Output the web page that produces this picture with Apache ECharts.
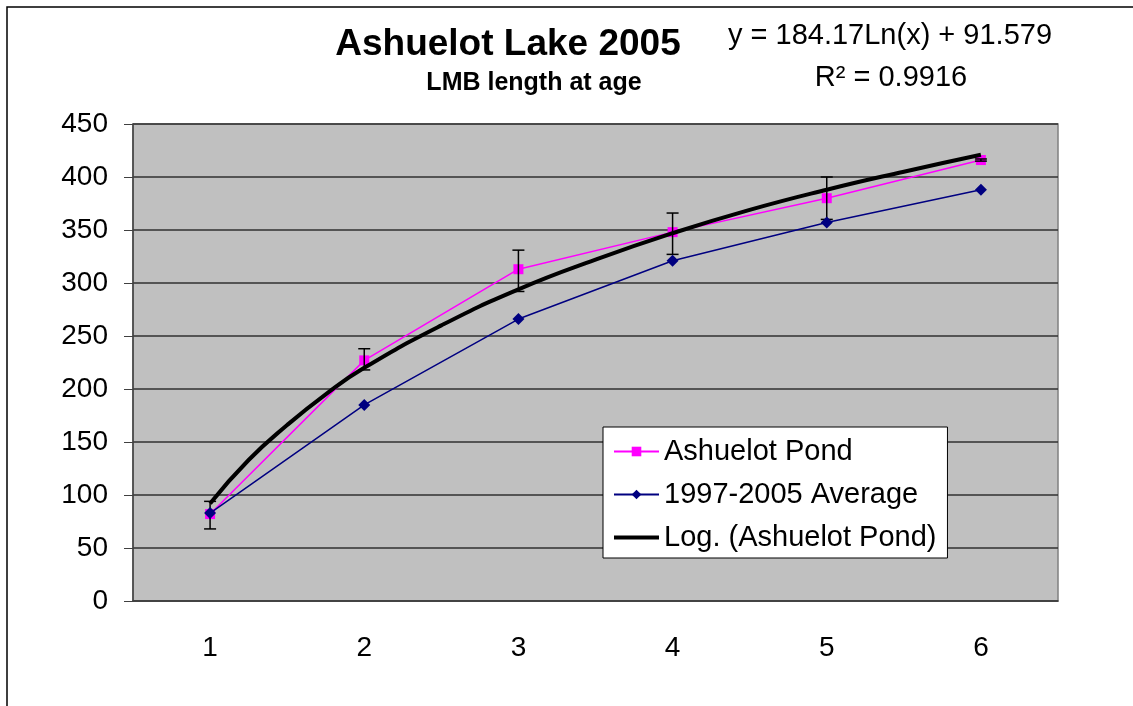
<!DOCTYPE html>
<html>
<head>
<meta charset="utf-8">
<title>Ashuelot Lake 2005</title>
<script src="https://cdn.jsdelivr.net/npm/echarts@6/dist/echarts.min.js"></script>
<style>
  html, body { margin: 0; padding: 0; background: #fff; }
  #chart { width: 1133px; height: 706px; }
</style>
</head>
<body>
<div id="chart"></div>
<script>
// age classes on the category axis
const ages = ["1", "2", "3", "4", "5", "6"]
// Ashuelot Pond mean length at age (mm) with error bar ends
const pondLength = [82, 227, 313, 348, 380, 416]
const pondErrLow = [68, 218, 292, 327, 360, 415]
const pondErrHigh = [94, 238, 331, 366, 400, 417]
// 1997-2005 average length at age
const averageLength = [83, 185, 266, 321, 357, 388]
// log trendline
const trendAge = [1, 1.25, 1.5, 1.75, 2, 2.5, 3, 3.5, 4, 4.5, 5, 5.5, 6]
const trendLength = [92, 133, 166, 195, 220, 260, 294, 322, 347, 369, 388, 405, 421]
// y axis ticks
const yMin = 0
const yMax = 450
const yStep = 50

const FONT = "'Liberation Sans', Arial, sans-serif"

const chart = echarts.init(document.getElementById("chart"))

const pondPoints = ages.map((a, i) => [Number(a), pondLength[i]])
const averagePoints = ages.map((a, i) => [Number(a), averageLength[i]])
const errorPoints = ages.map((a, i) => [Number(a), pondErrLow[i], pondErrHigh[i]])
const trendPoints = trendAge.map((a, i) => [a, trendLength[i]])

// thick bar in the middle of a 45x12 box, used as the trendline's legend icon
const thickLineIcon = "path://M0,0 M0,12 M0,4 L45,4 L45,8 L0,8 Z"

function renderErrorBar(params, api) {
    const x = api.value(0)
    const low = api.coord([x, api.value(1)])
    const high = api.coord([x, api.value(2)])
    const cap = 6
    const style = { stroke: "#000", lineWidth: 1.5 }
    return {
        type: "group",
        children: [
            { type: "line", shape: { x1: low[0], y1: low[1], x2: high[0], y2: high[1] }, style },
            { type: "line", shape: { x1: high[0] - cap, y1: high[1], x2: high[0] + cap, y2: high[1] }, style },
            { type: "line", shape: { x1: low[0] - cap, y1: low[1], x2: low[0] + cap, y2: low[1] }, style },
        ],
    }
}

chart.setOption({
    animation: false,
    textStyle: { fontFamily: FONT },
    graphic: [
        {
            type: "rect",
            shape: { x: 7, y: 7, width: 1150, height: 720 },
            style: { fill: "none", stroke: "#000", lineWidth: 1.5 },
            silent: true,
        },
        {
            type: "text",
            style: { text: "Ashuelot Lake 2005", x: 508, y: 45, textAlign: "center", textVerticalAlign: "middle", font: "bold 37px " + FONT, fill: "#000" },
        },
        {
            type: "text",
            style: { text: "LMB length at age", x: 534, y: 83, textAlign: "center", textVerticalAlign: "middle", font: "bold 25px " + FONT, fill: "#000" },
        },
        {
            type: "text",
            style: { text: "y = 184.17Ln(x) + 91.579", x: 890, y: 36, textAlign: "center", textVerticalAlign: "middle", font: "29px " + FONT, fill: "#000" },
        },
        {
            type: "text",
            style: { text: "R² = 0.9916", x: 891, y: 78, textAlign: "center", textVerticalAlign: "middle", font: "29px " + FONT, fill: "#000" },
        },
    ],
    grid: {
        left: 133,
        right: 75,
        top: 124,
        bottom: 105,
        show: true,
        backgroundColor: "#C0C0C0",
        borderColor: "#808080",
        borderWidth: 1.5,
    },
    legend: {
        orient: "vertical",
        left: 603,
        top: 427,
        padding: [10, 11, 6, 10],
        itemWidth: 45,
        itemHeight: 12,
        itemGap: 14,
        backgroundColor: "#fff",
        borderColor: "#000",
        borderWidth: 1,
        textStyle: { fontSize: 29, color: "#000", fontFamily: FONT },
        data: [
            "Ashuelot Pond",
            "1997-2005 Average",
            { name: "Log. (Ashuelot Pond)", icon: thickLineIcon, itemStyle: { color: "#000" } },
        ],
    },
    xAxis: [
        {
            type: "category",
            data: ages,
            boundaryGap: true,
            axisLine: { lineStyle: { color: "#404040", width: 1.5 } },
            axisTick: { length: 9, lineStyle: { color: "#404040" } },
            axisLabel: { fontSize: 28, color: "#000", margin: 33 },
        },
        {
            type: "value",
            min: 0.5,
            max: 6.5,
            show: false,
        },
    ],
    yAxis: {
        type: "value",
        min: yMin,
        max: yMax,
        interval: yStep,
        axisLine: { show: true, lineStyle: { color: "#404040", width: 1.5 } },
        axisTick: { show: true, length: 9, lineStyle: { color: "#404040" } },
        axisLabel: { fontSize: 28, color: "#000", margin: 25 },
        splitLine: { lineStyle: { color: "#303030", width: 1.5 } },
    },
    series: [
        {
            name: "Ashuelot Pond",
            type: "line",
            xAxisIndex: 1,
            data: pondPoints,
            symbol: "rect",
            symbolSize: 10,
            lineStyle: { color: "#FF00FF", width: 1.5 },
            itemStyle: { color: "#FF00FF" },
            z: 2,
        },
        {
            name: "pond error",
            type: "custom",
            xAxisIndex: 1,
            data: errorPoints,
            renderItem: renderErrorBar,
            z: 3,
        },
        {
            name: "Log. (Ashuelot Pond)",
            type: "line",
            xAxisIndex: 1,
            data: trendPoints,
            smooth: true,
            showSymbol: false,
            lineStyle: { color: "#000", width: 4 },
            itemStyle: { color: "#000" },
            z: 4,
        },
        {
            name: "1997-2005 Average",
            type: "line",
            xAxisIndex: 1,
            data: averagePoints,
            symbol: "diamond",
            symbolSize: 12,
            lineStyle: { color: "#000080", width: 1.5 },
            itemStyle: { color: "#000080" },
            z: 5,
        },
    ],
})
</script>
</body>
</html>
